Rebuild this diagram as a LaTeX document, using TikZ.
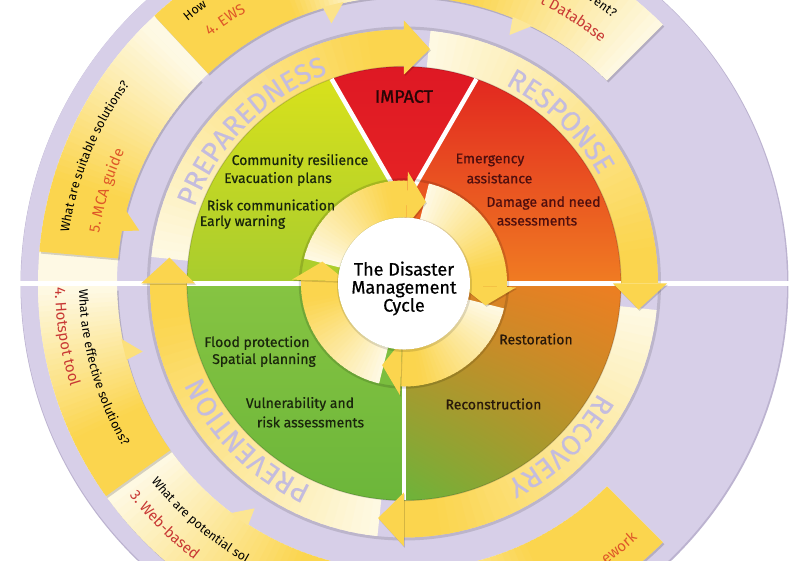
\documentclass[tikz,border=0pt]{standalone}
\usepackage{fontspec}
\setmainfont{Fira Sans}
\newfontfamily\medfont{Fira Sans}[FakeBold=0.6]
\newfontfamily\boldishfont{Fira Sans}[FakeBold=1.2]
\newfontfamily\ringfont{Fira Sans}[FakeBold=0.4]
\usetikzlibrary{decorations.text,shadings}

\definecolor{lav}{RGB}{215,207,232}
\definecolor{lavshadow}{RGB}{188,179,208}
\definecolor{cream}{RGB}{254,249,228}
\definecolor{yel}{RGB}{251,213,78}
\definecolor{ringtxt}{RGB}{196,188,222}
\definecolor{qred}{RGB}{200,56,52}
\definecolor{qorange}{RGB}{222,88,40}
\definecolor{prepA}{RGB}{216,225,28}
\definecolor{prepB}{RGB}{168,204,46}
\definecolor{impA}{RGB}{222,24,36}
\definecolor{impB}{RGB}{230,36,36}
\definecolor{respA}{RGB}{226,40,32}
\definecolor{respB}{RGB}{240,124,34}
\definecolor{prevA}{RGB}{134,196,66}
\definecolor{prevB}{RGB}{108,182,58}
\definecolor{recUL}{RGB}{214,132,38}
\definecolor{recUR}{RGB}{238,126,34}
\definecolor{recLL}{RGB}{108,180,58}
\definecolor{recLR}{RGB}{172,150,42}
\definecolor{greentxt}{RGB}{26,38,12}
\definecolor{redtxt}{RGB}{78,14,14}
\definecolor{browntxt}{RGB}{40,24,10}
\definecolor{imptxt}{RGB}{40,6,6}

% gradient annular band: tail angle, head angle, r in, r out, slices, fraction to full yellow
\newcommand{\gradband}[6]{%
  \foreach \k in {1,...,#5}{%
    \pgfmathsetmacro{\angA}{#1+(#2-#1)*(\k-1)/#5}%
    \pgfmathsetmacro{\angB}{#1+(#2-#1)*min(\k+0.3,#5)/#5}%
    \pgfmathtruncatemacro{\pct}{min(100,100*(\k-0.5)/(#5*#6))}%
    \fill[yel!\pct!cream] (\angA:#3) arc[start angle=\angA,end angle=\angB,radius=#3]
      -- (\angB:#4) arc[start angle=\angB,end angle=\angA,radius=#4] -- cycle;
  }}
% outer arrow: tail, head, fraction
\newcommand{\outerarrow}[3]{%
  \fill[black,opacity=.16,shift={(1.5,-2)}] (#1:287pt) arc[start angle=#1,end angle=#2,radius=287pt]
     -- (#2:366pt) arc[start angle=#2,end angle=#1,radius=366pt] -- cycle;
  \gradband{#1}{#2}{287pt}{366pt}{40}{#3}}
% tooth on inner edge of outer band
\newcommand{\tooth}[2]{%
  \fill[#2] ({#1-3.5}:288pt) -- ({#1}:270pt) -- ({#1+0.8}:288pt) -- cycle;}

\begin{document}
\begin{tikzpicture}[x=1pt,y=1pt,
  lbl/.style={inner sep=0pt,font=\medfont\fontsize{14}{16}\selectfont},
  ringhead/.style={fill=yel},
  shadowhead/.style={fill=black,opacity=.15}]
\useasboundingbox (-404,-277.5) rectangle (392,283.5);
\fill[white] (-404,-277.5) rectangle (392,283.5);

% purple disk
\fill[lavshadow] (0.5,-1) circle[radius=384pt];
\fill[lav] (0,0) circle[radius=383pt];

% cream background band of the outer arrows
\fill[cream] (45:287pt) arc[start angle=45,end angle=315,radius=287pt]
  -- (315:366pt) arc[start angle=315,end angle=45,radius=366pt] -- cycle;

% outer arrows (drawn against the flow)
\outerarrow{265}{315}{0.6}
\outerarrow{216}{264}{0.7}
\tooth{236.4}{yel!55!cream}
\outerarrow{181}{215.5}{0.7}
\tooth{194.6}{yel!70!cream}
\outerarrow{135}{175}{0.7}
\tooth{168.7}{yel}
\outerarrow{98}{133}{0.4}
\tooth{105.6}{yel!60!cream}
\outerarrow{45}{98}{0.6}
\tooth{67}{yel!50!cream}

% outer texts
\path[decorate,decoration={text along path,text align=left,
  text={|\fontsize{12.5}{14}\selectfont|What are suitable solutions?}}]
  (171.4:339pt) arc[start angle=171.4,end angle=120,radius=339pt];
\path[decorate,decoration={text along path,text align=left,
  text={|\fontsize{15}{17}\selectfont\color{qorange}|5. MCA guide}}]
  (170.6:309pt) arc[start angle=170.6,end angle=120,radius=309pt];
\path[decorate,decoration={text along path,text align=left,
  text={|\fontsize{12.5}{14}\selectfont|What are effective solutions?}}]
  (181:325pt) arc[start angle=181,end angle=240,radius=325pt];
\path[decorate,decoration={text along path,text align=left,
  text={|\fontsize{15}{17}\selectfont\color{qred}|4. Hotspot tool}}]
  (180.6:349pt) arc[start angle=180.6,end angle=235,radius=349pt];
\path[decorate,decoration={text along path,text align=left,
  text={|\fontsize{12.5}{14}\selectfont|What are potential sol}}]
  (218:321pt) arc[start angle=218,end angle=275,radius=321pt];
\path[decorate,decoration={text along path,text align=left,
  text={|\fontsize{15}{17}\selectfont\color{qred}|3. Web-based}}]
  (217.7:347pt) arc[start angle=217.7,end angle=265,radius=347pt];
\path[decorate,decoration={text along path,text align=left,
  text={|\fontsize{12.5}{14}\selectfont|How}}]
  (129.5:340pt) arc[start angle=129.5,end angle=100,radius=340pt];
\path[decorate,decoration={text along path,text align=left,
  text={|\fontsize{15}{17}\selectfont\color{qorange}|4. EWS}}]
  (128.2:314pt) arc[start angle=128.2,end angle=100,radius=314pt];
\path[decorate,decoration={text along path,text align=right,
  text={|\fontsize{12.5}{14}\selectfont|event?}}]
  (100:338pt) arc[start angle=100,end angle=51.9,radius=338pt];
\path[decorate,decoration={text along path,text align=right,
  text={|\fontsize{15}{17}\selectfont\color{qred}|t Database}}]
  (100:311pt) arc[start angle=100,end angle=50.7,radius=311pt];
\path[decorate,decoration={text along path,text align=right,
  text={|\fontsize{15}{17}\selectfont\color{qorange}|ework}}]
  (280:346pt) arc[start angle=280,end angle=312.5,radius=346pt];

% white horizontal line
\draw[white,line width=5.5pt] (-385,0) -- (385,0);

% ring shadow and ring arrows
\draw[black,opacity=.12,line width=3pt] (0,0) circle[radius=255.5pt];
\gradband{174}{90}{217pt}{254pt}{40}{0.9}
\gradband{84}{0}{217pt}{254pt}{40}{0.9}
\gradband{-6}{-90}{217pt}{254pt}{40}{0.9}
\gradband{264}{180}{217pt}{254pt}{40}{0.9}

% sectors
\shade[top color=prepA,bottom color=prepB] (0,0) -- (180:217pt)
  arc[start angle=180,end angle=109.5,radius=217pt] -- (0,79) -- cycle;
\shade[top color=respA,bottom color=respB] (0,0) -- (0:217pt)
  arc[start angle=0,end angle=70.5,radius=217pt] -- (0,79) -- cycle;
\shade[top color=impA,bottom color=impB] (0,79) -- (70.5:217pt)
  arc[start angle=70.5,end angle=109.5,radius=217pt] -- cycle;
\shade[top color=prevA,bottom color=prevB] (0,0) -- (180:217pt)
  arc[start angle=180,end angle=270,radius=217pt] -- cycle;
\shade[upper left=recUL,upper right=recUR,lower left=recLL,lower right=recLR]
  (0,0) -- (270:217pt) arc[start angle=270,end angle=360,radius=217pt] -- cycle;
\draw[black,opacity=.15,line width=1.2pt] (0,0) circle[radius=217pt];

% white separators in the sectors
\draw[white,line width=4.5pt] (0,79) -- (70.5:217pt);
\draw[white,line width=4.5pt] (0,79) -- (109.5:217pt);
\draw[white,line width=5pt] (-217,0) -- (217,0);
\draw[white,line width=4.5pt] (0,0) -- (0,-217);

% ring arrowheads
\foreach \b in {90,0,-90,180}{
  \fill[shadowhead,shift={(1,-1.5)}] (\b:209pt) -- (\b:263pt) -- ({\b-6.3}:236pt) -- cycle;
  \fill[ringhead] (\b:209pt) -- (\b:263pt) -- ({\b-6.3}:236pt) -- cycle;
}

% ring texts
\path[decorate,decoration={text along path,text align=center,
  text={|\ringfont\fontsize{28}{28}\selectfont\color{ringtxt}|PREPAREDNESS}}]
  (175:223pt) arc[start angle=175,end angle=95,radius=223pt];
\path[decorate,decoration={text along path,text align=center,
  text={|\ringfont\fontsize{28}{28}\selectfont\color{ringtxt}|RESPONSE}}]
  (86:223pt) arc[start angle=86,end angle=6,radius=223pt];
\path[decorate,decoration={text along path,text align=center,
  text={|\ringfont\fontsize{28}{28}\selectfont\color{ringtxt}|RECOVERY}}]
  (-6:223pt) arc[start angle=-6,end angle=-86,radius=223pt];
\path[decorate,decoration={text along path,text align=center,
  text={|\ringfont\fontsize{28}{28}\selectfont\color{ringtxt}|PREVENTION}}]
  (265:223pt) arc[start angle=265,end angle=185,radius=223pt];

% small ring
\draw[black,opacity=.14,line width=2.5pt] (0,0) circle[radius=104pt];
\gradband{166}{88}{66pt}{103pt}{30}{0.85}
\gradband{76}{-2}{66pt}{103pt}{30}{0.85}
\gradband{-14}{-92}{66pt}{103pt}{30}{0.85}
\gradband{256}{178}{66pt}{103pt}{30}{0.85}
\foreach \b in {88,-2,268,178}{
  \fill[shadowhead,shift={(1,-1.5)}] (\b:57pt) -- (\b:112pt) -- ({\b-13}:84.5pt) -- cycle;
  \fill[ringhead] (\b:57pt) -- (\b:112pt) -- ({\b-13}:84.5pt) -- cycle;
}

% center disk
\fill[black,opacity=.12] (0.5,-1) circle[radius=67.5pt];
\fill[white] (0,0) circle[radius=66pt];
\node[align=center,inner sep=0pt,font=\medfont\fontsize{18}{18}\selectfont] (title) at (0,-5)
  {The Disaster\\Management\\Cycle};

% sector labels
\node[lbl,font=\boldishfont\fontsize{18}{18}\selectfont,text=imptxt] (impact) at (0,187) {IMPACT};
\node[lbl,text=greentxt] (p1) at (-104,122.5) {Community resilience};
\node[lbl,text=greentxt] (p2) at (-126,104.5) {Evacuation plans};
\node[lbl,text=greentxt] (p3) at (-133,78.5) {Risk communication};
\node[lbl,text=greentxt] (p4) at (-161.5,61.5) {Early warning};
\node[lbl,text=redtxt] (r1) at (86,123.5) {Emergency};
\node[lbl,text=redtxt] (r2) at (95.5,105.5) {assistance};
\node[lbl,text=redtxt] (r3) at (139.5,80.5) {Damage and need};
\node[lbl,text=redtxt] (r4) at (133,62.5) {assessments};
\node[lbl,text=greentxt] (v1) at (-147,-59.5) {Flood protection};
\node[lbl,text=greentxt] (v2) at (-140,-76.5) {Spatial planning};
\node[lbl,text=greentxt] (v3) at (-104,-120.5) {Vulnerability and};
\node[lbl,text=greentxt] (v4) at (-93.5,-138.5) {risk assessments};
\node[lbl,text=browntxt] (c1) at (132,-55.5) {Restoration};
\node[lbl,text=browntxt] (c2) at (89.5,-120.5) {Reconstruction};
\end{tikzpicture}
\end{document}
